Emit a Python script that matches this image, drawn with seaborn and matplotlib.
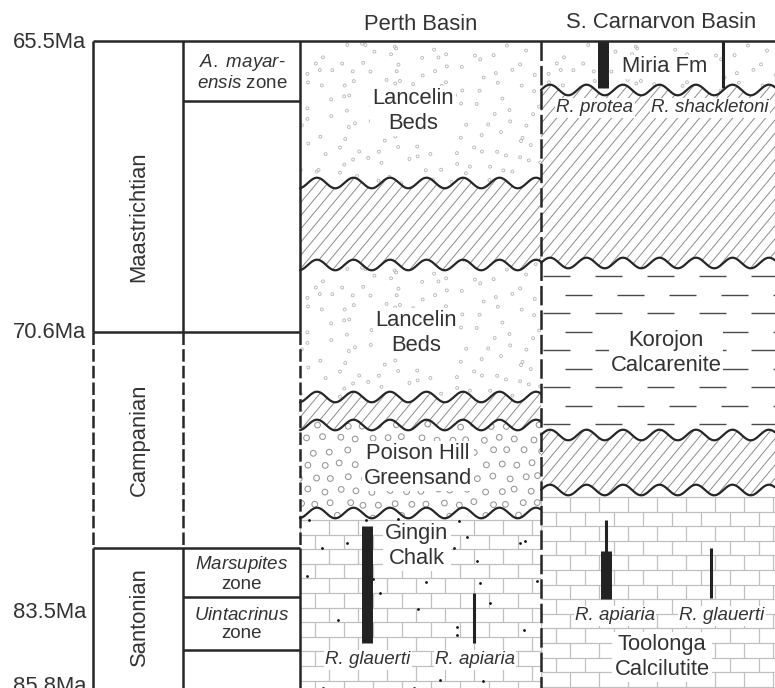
import numpy as np
import matplotlib.pyplot as plt
import seaborn as sns
from matplotlib.patches import Polygon
from matplotlib.collections import LineCollection

sns.set_theme(style="white")
plt.rcParams["font.family"] = ["Liberation Sans", "DejaVu Sans"]
plt.rcParams["mathtext.fontset"] = "custom"
plt.rcParams["mathtext.rm"] = "Liberation Sans"
plt.rcParams["mathtext.it"] = "Liberation Sans:italic"
plt.rcParams["lines.scale_dashes"] = False

# ---- data: levels are rows of the diagram, measured from the top ----
age_labels = ["65.5Ma", "70.6Ma", "83.5Ma", "85.8Ma"]
age_rows = [42, 332, 613, 686]

stage_names = ["Maastrichtian", "Campanian", "Santonian"]
stage_top = [41, 332, 548]
stage_base = [332, 548, 700]
stage_dashed = [False, True, False]

zone_names = [r"$\mathit{A.\ mayar}$-" "\n" r"$\mathit{ensis}$ zone", "", "",
              r"$\mathit{Marsupites}$" "\n" "zone",
              r"$\mathit{Uintacrinus}$" "\n" "zone", ""]
zone_top = [41, 101, 332, 548, 597, 650]
zone_base = [101, 332, 548, 597, 650, 700]

perth_units = ["Lancelin\nBeds", "", "Lancelin\nBeds", "", "Poison Hill\nGreensand", "Gingin\nChalk"]
perth_lith = ["sand", "gap", "sand", "gap", "greensand", "chalk"]
perth_top = [41, 183, 265, 397, 425, 513]
perth_base = [183, 265, 397, 425, 513, 700]

carn_units = ["Miria Fm", "", "Korojon\nCalcarenite", "", "Toolonga\nCalcilutite"]
carn_lith = ["sand", "gap", "marl", "gap", "chalk"]
carn_top = [41, 90, 263, 435, 490]
carn_base = [90, 263, 435, 490, 700]

# species range bars
range_top = [526, 593, 41, 41, 520, 551, 548]
range_base = [643, 643, 88, 88, 560, 599, 598]
range_thick = [True, False, True, False, False, True, False]

taxon_labels = ["R. glauerti", "R. apiaria", "R. protea", "R. shackletoni", "R. apiaria", "R. glauerti"]

# ---- layout ----
range_x = [367, 474, 603, 723, 606, 606, 711]
taxon_xy = [(368, 660), (475, 660), (595, 108), (710, 108), (615, 616), (722, 616)]
stage_label_rows = [217, 440, 617]
perth_label_rows = [111, None, 333, None, 466, 546]
perth_label_x = [413, None, 416, None, 418, 417]
carn_label_rows = [67, None, 353, None, 657]
carn_label_x = [665, None, 666, None, 662]

ink = "#262626"
txt = "#333333"
big = 15.8
small = 13.5

fig, ax = plt.subplots(figsize=(7.75, 6.88), dpi=100)
ax.set_position([0, 0, 1, 1])
ax.set_xlim(0, 775)
ax.set_ylim(688, 0)
ax.axis("off")


def wave(x, y0, phase):
    return y0 - 5.3 * np.cos(2 * np.pi * (x - phase) / 36.5)


def noise(i, j, k):
    v = np.sin(i * 12.9898 + j * 78.233 + k * 37.719) * 43758.5453
    return v - np.floor(v)


def region(x0, x1, top, base, top_wavy, base_wavy, phase):
    xs = np.linspace(x0, x1, 300)
    yt = wave(xs, top, phase) if top_wavy else np.full_like(xs, top)
    yb = wave(xs, base, phase) if base_wavy else np.full_like(xs, base)
    verts = np.column_stack([np.r_[xs, xs[::-1]], np.r_[yt, yb[::-1]]])
    patch = Polygon(verts, closed=True, facecolor="white", edgecolor="none", zorder=1)
    ax.add_patch(patch)
    return patch


def fill_sand(patch, x0, x1, y0, y1):
    gi, gj = np.meshgrid(np.arange(int((x1 - x0) / 16) + 1), np.arange(int((y1 - y0) / 15) + 1))
    px = x0 + (gi + noise(gi, gj, 1)) * 16
    py = y0 + (gj + noise(gi, gj, 2)) * 15
    sc = ax.scatter(px.ravel(), py.ravel(), s=4.5, facecolors="none",
                    edgecolors="#b4b4b4", linewidths=0.6, zorder=2)
    sc.set_clip_path(patch)


def fill_greensand(patch, x0, x1, y0, y1):
    gi, gj = np.meshgrid(np.arange(int((x1 - x0) / 16) + 2), np.arange(int((y1 - y0) / 13) + 1))
    px = x0 + (gi + 0.5 * (gj % 2) + 0.35 * (noise(gi, gj, 3) - 0.5)) * 16
    py = y0 + (gj + 0.5 + 0.3 * (noise(gi, gj, 4) - 0.5)) * 13
    sc = ax.scatter(px.ravel(), py.ravel(), s=17, facecolors="none",
                    edgecolors="#959595", linewidths=0.75, zorder=2)
    sc.set_clip_path(patch)


def fill_gap(patch, x0, x1, y0, y1):
    slope = 1.2
    h = y1 - y0
    starts = np.arange(x0 - h / slope, x1 + 11, 11)
    segs = [[(s, y1), (s + h / slope, y0)] for s in starts]
    lc = LineCollection(segs, colors="#8c8c8c", linewidths=0.7, zorder=2)
    ax.add_collection(lc)
    lc.set_clip_path(patch)


def fill_chalk(patch, x0, x1, y0, y1, dots):
    segs = []
    rows = np.arange(y0, y1, 14.6)
    for k, r in enumerate(rows):
        segs.append([(x0, r), (x1, r)])
        off = 14.5 if k % 2 else 0
        for jx in np.arange(x0 + off, x1, 29):
            segs.append([(jx, r), (jx, r + 14.6)])
    lc = LineCollection(segs, colors="#c0c0c0", linewidths=0.9, zorder=2)
    ax.add_collection(lc)
    lc.set_clip_path(patch)
    if dots:
        gi, gj = np.meshgrid(np.arange(int((x1 - x0) / 40) + 1), np.arange(int((y1 - y0) / 30) + 1))
        px = x0 + (gi + noise(gi, gj, 5)) * 40
        py = y0 - 8 + (gj + noise(gi, gj, 6)) * 30
        sc = ax.scatter(px.ravel(), py.ravel(), s=4, color="#111111", linewidths=0, zorder=2)
        sc.set_clip_path(patch)


def fill_marl(patch, x0, x1, y0, y1):
    segs = []
    for k, r in enumerate(np.arange(y0, y1, 18.5)):
        start = x0 + 2 + (22 if k % 2 else 0)
        for sx in np.arange(start, x1, 52):
            segs.append([(sx, r), (sx + 27, r)])
    lc = LineCollection(segs, colors="#4a4a4a", linewidths=1.0, zorder=2)
    ax.add_collection(lc)
    lc.set_clip_path(patch)


def draw_basin(x0, x1, tops, bases, liths, units, lab_x, lab_y, phase, chalk_dots):
    n = len(tops)
    for k in range(n):
        patch = region(x0, x1, tops[k], bases[k], k > 0, k < n - 1, phase)
        y0, y1 = tops[k] - 6, min(bases[k] + 6, 700)
        if liths[k] == "sand":
            fill_sand(patch, x0, x1, y0, y1)
        elif liths[k] == "greensand":
            fill_greensand(patch, x0, x1, y0, y1)
        elif liths[k] == "gap":
            fill_gap(patch, x0, x1, y0, y1)
        elif liths[k] == "chalk":
            fill_chalk(patch, x0, x1, tops[k] + 7, y1, chalk_dots)
        elif liths[k] == "marl":
            fill_marl(patch, x0, x1, tops[k] + 13, bases[k])
        if units[k]:
            ax.text(lab_x[k], lab_y[k], units[k], ha="center", va="center",
                    fontsize=big, color=txt, linespacing=1.22, zorder=4,
                    bbox=dict(facecolor="white", edgecolor="none", pad=1.5))
    xs = np.linspace(x0, x1, 300)
    for b in tops[1:]:
        ax.plot(xs, wave(xs, b, phase), color=ink, lw=1.6, zorder=5)


draw_basin(300, 541, perth_top, perth_base, perth_lith, perth_units,
           perth_label_x, perth_label_rows, 317, True)
draw_basin(541, 775, carn_top, carn_base, carn_lith, carn_units,
           carn_label_x, carn_label_rows, 550, False)

# range bars
for x, t, b, thick in zip(range_x, range_top, range_base, range_thick):
    ax.vlines(x, t, b, colors="#222222", lw=7.9 if thick else 2.2, zorder=3, capstyle="butt")

for name, (x, y) in zip(taxon_labels, taxon_xy):
    ax.text(x, y, name, ha="center", va="center", fontsize=small, style="italic",
            color=txt, zorder=4, bbox=dict(facecolor="white", edgecolor="none", pad=1))

# time scale columns
dash_small = (0, (9, 3))
for t, b, dashed in zip(stage_top, stage_base, stage_dashed):
    ax.vlines([93, 183, 300], t, b, colors=ink, lw=1.8,
              linestyles=dash_small if dashed else "solid", zorder=5)
for t in stage_top[1:]:
    ax.hlines(t, 93, 300, colors=ink, lw=1.8, zorder=5)
for t in zone_top[1:]:
    if t not in stage_top:
        ax.hlines(t, 183, 300, colors=ink, lw=1.8, zorder=5)
ax.hlines(41, 93, 775, colors=ink, lw=1.8, zorder=5)
ax.vlines(541, 41, 700, colors=ink, lw=1.8, linestyles=(0, (14, 3.6)), zorder=5)

for name, y in zip(stage_names, stage_label_rows):
    ax.text(139, y, name, rotation=90, ha="center", va="center", fontsize=big, color=txt)

for name, t, b in zip(zone_names, zone_top, zone_base):
    if name:
        ax.text(242, (t + b) / 2 + 1, name, ha="center", va="center", fontsize=small,
                color=txt, linespacing=1.15)

for lab, y in zip(age_labels, age_rows):
    ax.text(86, y, lab, ha="right", va="center", fontsize=big, color=txt)

ax.text(421, 24, "Perth Basin", ha="center", va="center", fontsize=big, color=txt)
ax.text(661, 23, "S. Carnarvon Basin", ha="center", va="center", fontsize=big, color=txt)

fig.savefig("out.png", dpi=100)
